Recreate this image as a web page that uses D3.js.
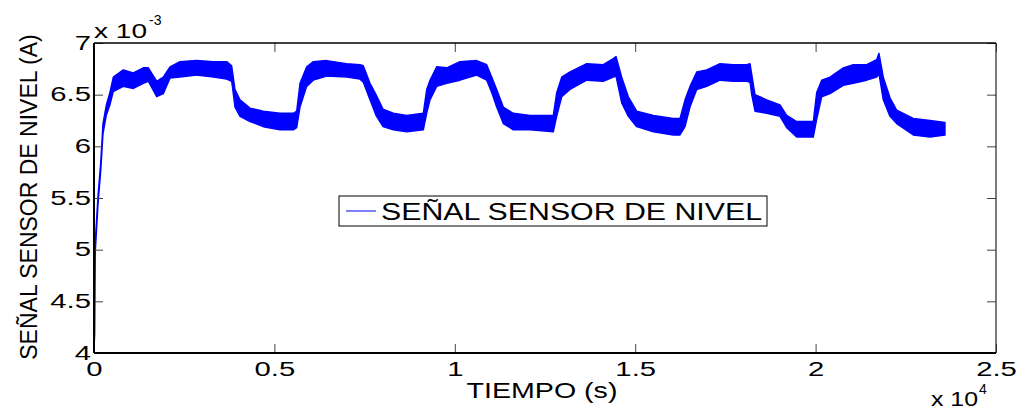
<!DOCTYPE html>
<html>
<head>
<meta charset="utf-8">
<script src="https://cdn.jsdelivr.net/npm/d3@7"></script>
<style>
  body { margin: 0; background: #fff; }
  text { font-family: "Liberation Sans", Arial, sans-serif; fill: #000; }
</style>
</head>
<body>
<script>
// time (s) and the upper / lower edge of the noisy band (units of 1e-3 A)
var timeS = [0, 19, 36, 111, 186, 249, 341, 440, 535, 812, 1089, 1366, 1505, 1738, 1921, 2106, 2384, 2846, 3307,
  3678, 3816, 3908, 4047, 4324, 4692, 5155, 5524, 5618, 5710, 5895, 6078, 6450, 7004, 7372, 7464, 7650, 7816, 8010, 8295,
  8667, 9127, 9221, 9313, 9498, 9776, 10144, 10607, 10884, 11023, 11161, 11344, 11621, 12084, 12730, 12824, 12963, 13193,
  13656, 14116, 14393, 14468, 14626, 14809, 15041, 15502, 16056, 16242, 16381, 16519, 16705, 16982, 17351, 17719, 18090,
  18182, 18229, 18320, 18645, 19013, 19199, 19476, 19936, 20030, 20169, 20399, 20768, 21045, 21416, 21693, 21757, 21876,
  22062, 22247, 22707, 23171, 23586];
var loVals = [4.05, 4.18, 4.98, 5.44, 5.76, 6.12, 6.30, 6.40, 6.53, 6.58, 6.56, 6.61, 6.63, 6.48, 6.51, 6.66, 6.67, 6.69, 6.67,
  6.65, 6.63, 6.38, 6.29, 6.24, 6.19, 6.16, 6.16, 6.18, 6.38, 6.58, 6.64, 6.68, 6.67, 6.65, 6.62, 6.45, 6.30, 6.19, 6.16,
  6.14, 6.16, 6.32, 6.45, 6.58, 6.61, 6.64, 6.69, 6.64, 6.52, 6.38, 6.22, 6.16, 6.16, 6.14, 6.29, 6.48, 6.55, 6.64, 6.63,
  6.67, 6.68, 6.42, 6.29, 6.19, 6.14, 6.11, 6.11, 6.19, 6.38, 6.55, 6.58, 6.64, 6.63, 6.63, 6.62, 6.50, 6.34, 6.32, 6.29,
  6.18, 6.09, 6.09, 6.26, 6.48, 6.51, 6.59, 6.61, 6.64, 6.67, 6.70, 6.45, 6.29, 6.22, 6.11, 6.09, 6.11];
var hiVals = [4.10, 4.26, 5.08, 5.52, 5.84, 6.22, 6.40, 6.52, 6.67, 6.74, 6.71, 6.76, 6.76, 6.63, 6.67, 6.77, 6.82, 6.83, 6.82,
  6.82, 6.78, 6.55, 6.45, 6.37, 6.34, 6.32, 6.32, 6.34, 6.61, 6.77, 6.82, 6.83, 6.80, 6.79, 6.78, 6.61, 6.50, 6.36, 6.32,
  6.30, 6.32, 6.55, 6.64, 6.77, 6.76, 6.82, 6.83, 6.79, 6.67, 6.55, 6.38, 6.32, 6.30, 6.30, 6.52, 6.67, 6.72, 6.80, 6.79,
  6.85, 6.87, 6.67, 6.48, 6.34, 6.30, 6.27, 6.27, 6.45, 6.58, 6.72, 6.74, 6.80, 6.79, 6.79, 6.80, 6.70, 6.50, 6.45, 6.40,
  6.30, 6.24, 6.24, 6.52, 6.64, 6.67, 6.76, 6.79, 6.79, 6.84, 6.90, 6.67, 6.47, 6.35, 6.27, 6.25, 6.23];

var xTickVals = [0, 5000, 10000, 15000, 20000, 25000];
var xTickLabels = ["0", "0.5", "1", "1.5", "2", "2.5"];
var yTickVals = [4, 4.5, 5, 5.5, 6, 6.5, 7];
var yTickLabels = ["4", "4.5", "5", "5.5", "6", "6.5", "7"];

var seriesName = "SEÑAL SENSOR DE NIVEL";
var xTitle = "TIEMPO (s)";
var yTitle = "SEÑAL SENSOR DE NIVEL (A)";

var width = 1021, height = 410;
// plot box edges (window.top is read-only, so no plain "top")
var boxL = 94, boxR = 996, boxT = 43, boxB = 353;

var svg = d3.select("body").append("svg")
    .attr("width", width)
    .attr("height", height);

var x = d3.scaleLinear().domain([0, 25000]).range([boxL, boxR]);
var y = d3.scaleLinear().domain([4, 7]).range([boxB, boxT]);

// stretch text sideways, the picture's lettering is wide
function stretch(sel, k) {
    sel.each(function() {
        var w = this.getComputedTextLength();
        d3.select(this).attr("textLength", w * k).attr("lengthAdjust", "spacingAndGlyphs");
    });
}

svg.append("clipPath").attr("id", "plotclip")
  .append("rect").attr("x", boxL).attr("y", boxT).attr("width", boxR - boxL).attr("height", boxB - boxT);

// signal band
var pts = timeS.map(function(t, i) { return {t: t, lo: loVals[i], hi: hiVals[i]}; });
var band = d3.area()
    .x(function(d) { return x(d.t); })
    .y0(function(d) { return y(d.lo); })
    .y1(function(d) { return y(d.hi); });

svg.append("path")
    .datum(pts)
    .attr("clip-path", "url(#plotclip)")
    .attr("d", band)
    .attr("fill", "#0000ff")
    .attr("stroke", "#0000ff")
    .attr("stroke-width", 1.4)
    .attr("stroke-linejoin", "round");

// axes, ticks pointing inward
var xAxis = svg.append("g")
    .attr("transform", "translate(0," + boxB + ")")
    .call(d3.axisBottom(x).tickValues(xTickVals).tickSize(-9).tickPadding(9)
        .tickFormat(function(d, i) { return xTickLabels[i]; }));
var yAxis = svg.append("g")
    .attr("transform", "translate(" + boxL + ",0)")
    .call(d3.axisLeft(y).tickValues(yTickVals).tickSize(-9).tickPadding(3)
        .tickFormat(function(d, i) { return yTickLabels[i]; }));
var topAxis = svg.append("g")
    .attr("transform", "translate(0," + boxT + ")")
    .call(d3.axisTop(x).tickValues(xTickVals).tickSize(-9).tickFormat(""));
var rightAxis = svg.append("g")
    .attr("transform", "translate(" + boxR + ",0)")
    .call(d3.axisRight(y).tickValues(yTickVals).tickSize(-9).tickFormat(""));

svg.selectAll(".domain").remove();
svg.selectAll(".tick line").attr("stroke", "#444").attr("stroke-width", 1);
svg.selectAll(".tick text")
    .attr("font-family", "Liberation Sans, Arial, sans-serif")
    .attr("font-size", 19.5)
    .attr("fill", "#000");
stretch(xAxis.selectAll(".tick text"), 1.5);
stretch(yAxis.selectAll(".tick text"), 1.5);

// box
svg.append("line").attr("x1", boxL).attr("x2", boxR).attr("y1", boxT).attr("y2", boxT)
    .attr("stroke", "#000").attr("stroke-width", 1.5);
svg.append("line").attr("x1", boxR).attr("x2", boxR).attr("y1", boxT).attr("y2", boxB)
    .attr("stroke", "#222").attr("stroke-width", 1.2);
svg.append("line").attr("x1", boxL).attr("x2", boxR).attr("y1", boxB).attr("y2", boxB)
    .attr("stroke", "#000").attr("stroke-width", 2);
svg.append("line").attr("x1", boxL).attr("x2", boxL).attr("y1", boxT).attr("y2", boxB)
    .attr("stroke", "#000").attr("stroke-width", 2);

// exponent labels
var e1 = svg.append("text").attr("x", 94).attr("y", 38).attr("font-size", 20).text("x 10");
e1.attr("textLength", 53).attr("lengthAdjust", "spacingAndGlyphs");
svg.append("text").attr("x", 149).attr("y", 25).attr("font-size", 14).text("-3");
var e2 = svg.append("text").attr("x", 931).attr("y", 406).attr("font-size", 20).text("x 10");
e2.attr("textLength", 47).attr("lengthAdjust", "spacingAndGlyphs");
svg.append("text").attr("x", 979).attr("y", 394).attr("font-size", 14).text("4");

// axis titles
var xt = svg.append("text")
    .attr("x", (boxL + boxR) / 2 - 3)
    .attr("y", 398)
    .attr("text-anchor", "middle")
    .attr("font-size", 22)
    .text(xTitle);
stretch(xt, 1.3);

svg.append("text")
    .attr("transform", "translate(37,197) rotate(-90)")
    .attr("text-anchor", "middle")
    .attr("font-size", 23)
    .text(yTitle);

// legend
var legend = svg.append("g");
legend.append("rect")
    .attr("x", 339).attr("y", 196).attr("width", 428).attr("height", 30)
    .attr("fill", "#fff").attr("stroke", "#000").attr("stroke-width", 1);
legend.append("line")
    .attr("x1", 346).attr("x2", 376).attr("y1", 211).attr("y2", 211)
    .attr("stroke", "#0000ff").attr("stroke-width", 1);
var lt = legend.append("text")
    .attr("x", 381).attr("y", 219.5)
    .attr("font-size", 23)
    .text(seriesName);
lt.attr("textLength", 381).attr("lengthAdjust", "spacingAndGlyphs");
</script>
</body>
</html>
